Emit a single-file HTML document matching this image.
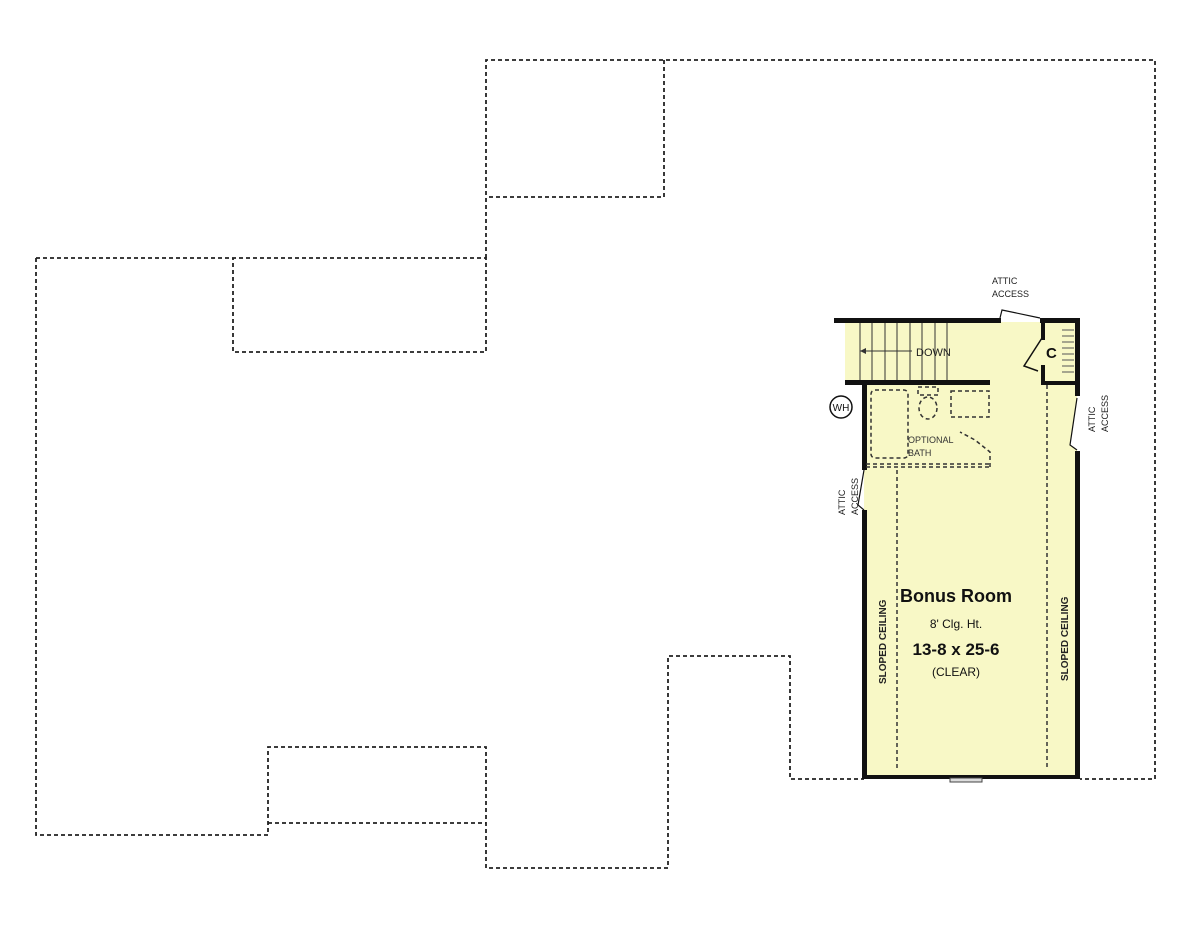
<!DOCTYPE html>
<html><head><meta charset="utf-8"><style>html,body{margin:0;padding:0;background:#fff;}svg{display:block}</style></head>
<body>
<svg width="1200" height="928" viewBox="0 0 1200 928" xmlns="http://www.w3.org/2000/svg" font-family="Liberation Sans, sans-serif">
<g fill="none" stroke="#222" stroke-width="1.8" stroke-dasharray="4 3">
<path d="M486,258 V60 H1155 V779 H1080"/>
<path d="M664,60 V197 H486"/>
<path d="M36,258 H486 V352 H233 V258"/>
<path d="M36,258 V835 H268 V747 H486 V868 H668 V656 H790 V779 H864"/>
<path d="M268,823 H486"/>
</g>
<path d="M864,383 H845 V322 H1077 V777 H864 Z" fill="#f8f8c6"/>
<g stroke="#333" stroke-width="1">
<line x1="860" y1="322" x2="860" y2="383"/><line x1="872" y1="322" x2="872" y2="383"/>
<line x1="885" y1="322" x2="885" y2="383"/><line x1="897" y1="322" x2="897" y2="383"/>
<line x1="910" y1="322" x2="910" y2="383"/><line x1="922" y1="322" x2="922" y2="383"/>
<line x1="935" y1="322" x2="935" y2="383"/><line x1="947" y1="322" x2="947" y2="383"/>
<line x1="860" y1="351" x2="912" y2="351"/>
</g>
<path d="M860,351 l6,-3 v6 z" fill="#333"/>
<text x="916" y="356" font-size="11" fill="#222">DOWN</text>
<g fill="#111">
<rect x="834" y="318" width="167" height="5"/>
<rect x="1040" y="318" width="40" height="5"/>
<rect x="1075" y="318" width="5" height="78"/>
<rect x="1075" y="451" width="5" height="328"/>
<rect x="862" y="380" width="5" height="90"/>
<rect x="862" y="510" width="5" height="269"/>
<rect x="862" y="775" width="218" height="4"/>
<rect x="845" y="380" width="145" height="5"/>
<rect x="1041" y="318" width="4" height="22"/>
<rect x="1041" y="365" width="4" height="20"/>
<rect x="1041" y="381" width="36" height="4"/>
</g>
<g stroke="#555" stroke-width="1">
<line x1="1062" y1="330" x2="1074" y2="330"/><line x1="1062" y1="336" x2="1074" y2="336"/><line x1="1062" y1="342" x2="1074" y2="342"/><line x1="1062" y1="348" x2="1074" y2="348"/><line x1="1062" y1="354" x2="1074" y2="354"/><line x1="1062" y1="360" x2="1074" y2="360"/><line x1="1062" y1="366" x2="1074" y2="366"/><line x1="1062" y1="372" x2="1074" y2="372"/>
</g>
<text x="1046" y="358" font-size="15" font-weight="bold" fill="#111">C</text>
<path d="M1042,338 L1024,366 L1038,371" fill="none" stroke="#111" stroke-width="1.5"/>
<path d="M1000,318 L1002,310 L1040,318" fill="#fff" stroke="#111" stroke-width="1.2"/>
<text x="992" y="284" font-size="9" fill="#222">ATTIC</text>
<text x="992" y="297" font-size="9" fill="#222">ACCESS</text>
<path d="M1077,398 L1070,445 L1077,450" fill="#fff" stroke="#111" stroke-width="1.2"/>
<text font-size="9" fill="#222" transform="translate(1095,432) rotate(-90)">ATTIC</text>
<text font-size="9" fill="#222" transform="translate(1108,432) rotate(-90)">ACCESS</text>
<path d="M864,470 L858,505 L864,510" fill="#fff" stroke="#111" stroke-width="1.2"/>
<text font-size="9" fill="#222" transform="translate(845,515) rotate(-90)">ATTIC</text>
<text font-size="9" fill="#222" transform="translate(858,515) rotate(-90)">ACCESS</text>
<circle cx="841" cy="407" r="11" fill="#fff" stroke="#111" stroke-width="1.5"/>
<text x="841" y="411" font-size="10" text-anchor="middle" fill="#111">WH</text>
<g fill="none" stroke="#333" stroke-width="1.5" stroke-dasharray="4 3">
<rect x="871" y="390" width="37" height="68" rx="4"/>
<line x1="866" y1="464" x2="990" y2="464"/>
<line x1="866" y1="467" x2="990" y2="467"/>
<path d="M990,467 V452 L975,440 L960,432"/>
<rect x="951" y="391" width="38" height="26"/>
<ellipse cx="928" cy="408" rx="9" ry="11"/>
<rect x="918" y="387" width="20" height="8"/>
<line x1="897" y1="470" x2="897" y2="770"/>
<line x1="1047" y1="385" x2="1047" y2="770"/>
</g>
<text x="908" y="443" font-size="9" fill="#333">OPTIONAL</text>
<text x="908" y="456" font-size="9" fill="#333">BATH</text>
<text x="956" y="602" font-size="18" font-weight="bold" text-anchor="middle" fill="#111">Bonus Room</text>
<text x="956" y="628" font-size="12" text-anchor="middle" fill="#111">8' Clg. Ht.</text>
<text x="956" y="655" font-size="17" font-weight="bold" text-anchor="middle" fill="#111">13-8 x 25-6</text>
<text x="956" y="676" font-size="12" text-anchor="middle" fill="#111">(CLEAR)</text>
<text font-size="10" font-weight="bold" fill="#222" transform="translate(886,684) rotate(-90)">SLOPED CEILING</text>
<text font-size="10" font-weight="bold" fill="#222" transform="translate(1068,681) rotate(-90)">SLOPED CEILING</text>
<rect x="950" y="778" width="32" height="4" fill="#ddd" stroke="#444" stroke-width="1"/>
</svg>
</body></html>
